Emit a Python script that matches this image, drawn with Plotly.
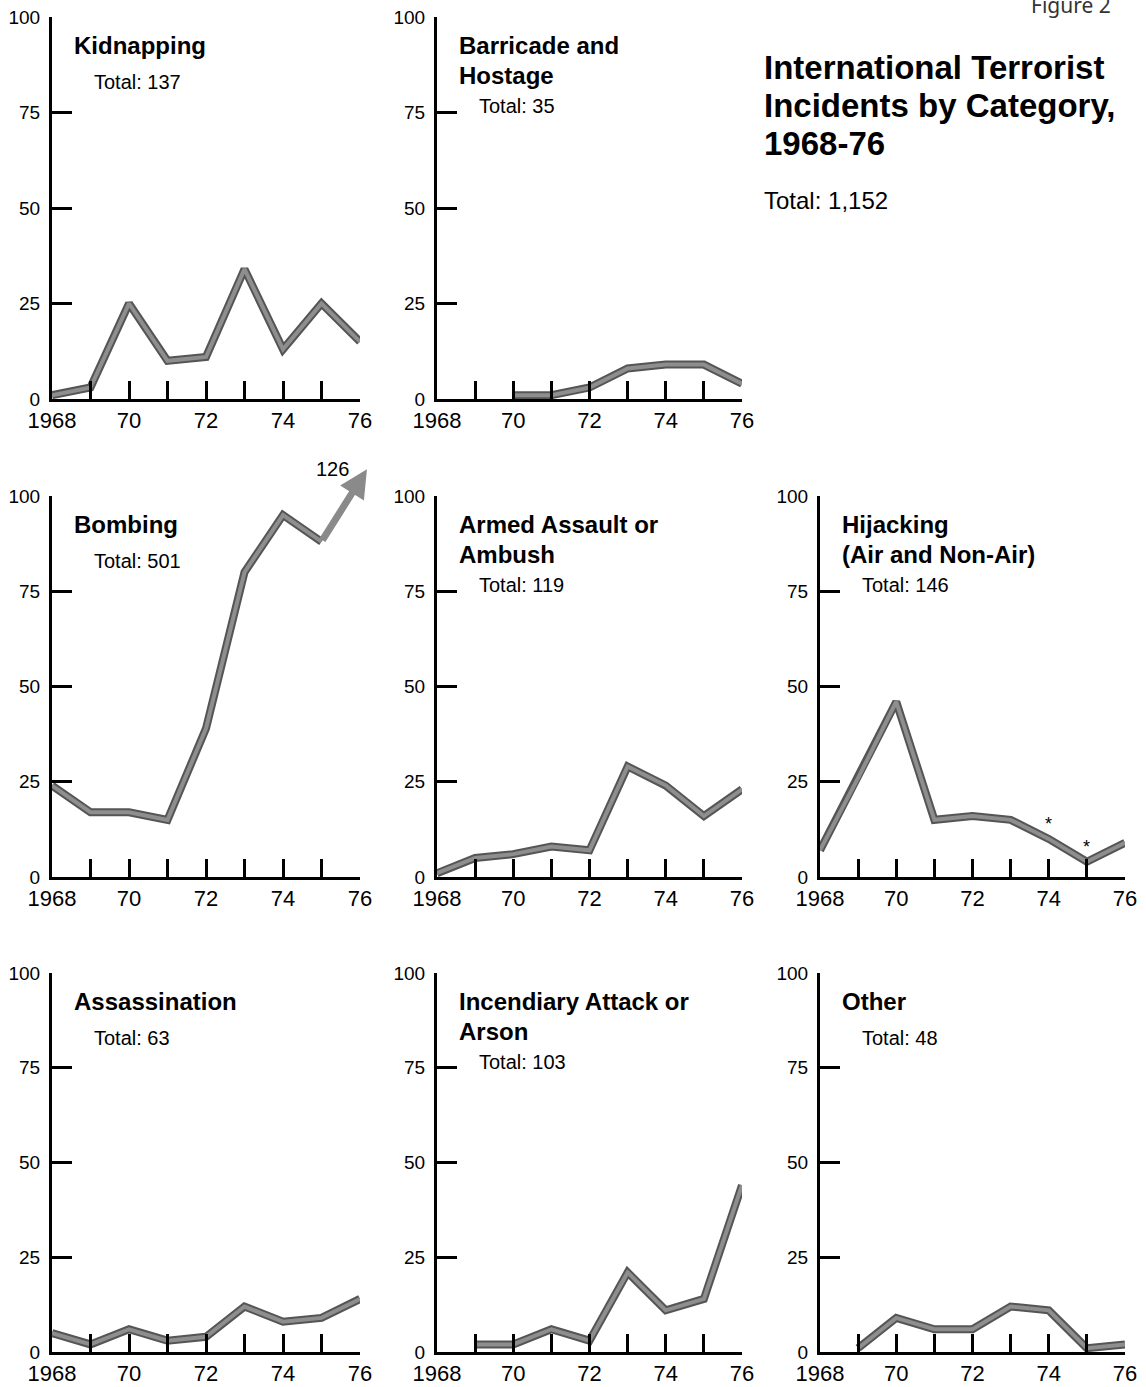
import plotly.graph_objects as go

# ---------------- data ----------------
years = [1968, 1969, 1970, 1971, 1972, 1973, 1974, 1975, 1976]
x_ticktext = ["1968", "", "70", "", "72", "", "74", "", "76"]
y_tickvals = [0, 25, 50, 75, 100]
y_ticktext = ["0", "25", "50", "75", "100"]

kidnapping = [1, 3, 25, 10, 11, 34, 13, 25, 15]
barricade = [None, None, 1, 1, 3, 8, 9, 9, 4]
bombing = [24, 17, 17, 15, 39, 80, 95, 88, 126]
armed_assault = [1, 5, 6, 8, 7, 29, 24, 16, 23]
hijacking = [7, 26, 46, 15, 16, 15, 10, 4, 9]
assassination = [5, 2, 6, 3, 4, 12, 8, 9, 14]
incendiary = [None, 2, 2, 6, 3, 21, 11, 14, 44]
other = [None, 1, 9, 6, 6, 12, 11, 1, 2]

hijack_footnote_years = [1974, 1975]

main_title = ["International Terrorist", "Incidents by Category,", "1968-76"]
main_total = "Total: 1,152"
figure_label = "Figure 2"

panels = [
    dict(title=["Kidnapping"], total="Total: 137", values=kidnapping, col=0, row=0),
    dict(title=["Barricade and", "Hostage"], total="Total: 35", values=barricade, col=1, row=0),
    dict(title=["Bombing"], total="Total: 501", values=bombing, col=0, row=1),
    dict(title=["Armed Assault or", "Ambush"], total="Total: 119", values=armed_assault, col=1, row=1),
    dict(title=["Hijacking", "(Air and Non-Air)"], total="Total: 146", values=hijacking, col=2, row=1),
    dict(title=["Assassination"], total="Total: 63", values=assassination, col=0, row=2),
    dict(title=["Incendiary Attack or", "Arson"], total="Total: 103", values=incendiary, col=1, row=2),
    dict(title=["Other"], total="Total: 48", values=other, col=2, row=2),
]

# ---------------- layout constants ----------------
W, H = 1146, 1387
Y_MAX = 100
X_MIN, X_MAX = years[0], years[-1]
col_px = [(52, 360), (437, 742), (820, 1125)]
row_px = [(17, 399), (496, 877), (973, 1352)]

FONT = "Liberation Sans, Arial, Helvetica, sans-serif"
LINE_OUTER = "#555555"
LINE_INNER = "#8e8e8e"


def to_px(col, row, xv, yv):
    x0, x1 = col_px[col]
    yt, yb = row_px[row]
    px = x0 + (xv - X_MIN) / (X_MAX - X_MIN) * (x1 - x0)
    py = yb - yv / Y_MAX * (yb - yt)
    return px, py


def pxx(px):
    return px / W


def pxy(py):
    return 1 - py / H


fig = go.Figure()
annotations = []


def text_at(px, py_cap_top, text, size, bold=False, xanchor="left", color="black", family=FONT):
    annotations.append(dict(
        x=pxx(px), y=pxy(py_cap_top - 0.3 * size), xref="paper", yref="paper",
        xanchor=xanchor, yanchor="top", showarrow=False, text=text,
        font=dict(family=family, size=size, color=color, weight=700 if bold else 400),
    ))


for i, p in enumerate(panels):
    n = i + 1
    xa = "x" if n == 1 else f"x{n}"
    ya = "y" if n == 1 else f"y{n}"
    col, row = p["col"], p["row"]
    vals = p["values"]
    shown = [v if (v is not None and v <= Y_MAX) else None for v in vals]
    for color, width in [(LINE_OUTER, 8), (LINE_INNER, 4)]:
        fig.add_trace(go.Scatter(
            x=years, y=shown, xaxis=xa, yaxis=ya, mode="lines",
            line=dict(color=color, width=width), connectgaps=False,
            hoverinfo="skip", showlegend=False,
        ))

    x0, x1 = col_px[col]
    yt, yb = row_px[row]
    fig.layout[("xaxis" if n == 1 else f"xaxis{n}")] = dict(
        domain=[pxx(x0), pxx(x1)], range=[X_MIN, X_MAX], anchor=ya,
        showline=True, linecolor="black", linewidth=3, mirror=False,
        ticks="inside", ticklen=18, tickwidth=3, tickcolor="black",
        tickvals=years, ticktext=x_ticktext,
        tickfont=dict(family=FONT, size=22, color="black"),
        showgrid=False, zeroline=False, fixedrange=True, automargin=False,
    )
    fig.layout[("yaxis" if n == 1 else f"yaxis{n}")] = dict(
        domain=[pxy(yb), pxy(yt)], range=[0, Y_MAX], anchor=xa,
        showline=True, linecolor="black", linewidth=3,
        ticks="inside", ticklen=20, tickwidth=3, tickcolor="black",
        tickvals=y_tickvals, ticktext=y_ticktext, ticklabelstandoff=5,
        tickfont=dict(family=FONT, size=19, color="black"),
        showgrid=False, zeroline=False, fixedrange=True, automargin=False,
    )

    # titles
    cap = yt + 20
    for k, line in enumerate(p["title"]):
        text_at(x0 + 20, cap + 30 * k, line, 24, bold=True)
    last_cap = cap + 30 * (len(p["title"]) - 1)
    gap = 38 if len(p["title"]) == 1 else 32
    text_at(x0 + 40, last_cap + gap, p["total"], 20)

    # overflow arrows (values beyond the axis maximum)
    for j, v in enumerate(vals):
        if v is not None and v > Y_MAX and j > 0 and vals[j - 1] is not None:
            tail_x, tail_y = to_px(col, row, years[j - 1], vals[j - 1])
            tip_x, tip_y = to_px(col, row, years[j] + 0.18, Y_MAX + 7)
            annotations.append(dict(
                x=pxx(tip_x), y=pxy(tip_y), xref="paper", yref="paper",
                ax=tail_x - tip_x, ay=tail_y - tip_y, axref="pixel", ayref="pixel",
                showarrow=True, arrowhead=2, arrowsize=0.8, arrowwidth=7,
                arrowcolor="#8a8a8a", standoff=0, startstandoff=0, text="",
            ))
            annotations.append(dict(
                x=pxx(tip_x - 16), y=pxy(tip_y), xref="paper", yref="paper",
                xanchor="right", yanchor="middle", showarrow=False, text=str(v),
                font=dict(family=FONT, size=20, color="black"),
            ))

    # footnote asterisks on hijacking
    if p["values"] is hijacking:
        for fy in hijack_footnote_years:
            v = hijacking[years.index(fy)]
            annotations.append(dict(
                x=fy, y=v + 4, xref=xa, yref=ya, showarrow=False, text="*",
                font=dict(family=FONT, size=18, color="black"),
                xanchor="center", yanchor="middle",
            ))

# main title block
for k, line in enumerate(main_title):
    text_at(762, 57 + 38 * k, line, 33, bold=True)
text_at(762, 192, main_total, 24)

annotations.append(dict(
    x=pxx(1113), y=pxy(21), xref="paper", yref="paper", xanchor="right", yanchor="bottom",
    showarrow=False, text=figure_label,
    font=dict(family="Noto Sans, DejaVu Sans, sans-serif", size=21, color="#333333"),
))

fig.update_layout(
    template="none",
    width=W, height=H, margin=dict(l=0, r=0, t=0, b=0, pad=0),
    paper_bgcolor="white", plot_bgcolor="white",
    annotations=annotations, showlegend=False,
)

fig.write_html("out.html", config={"displayModeBar": False},
               post_script="document.body.style.margin='0';")
